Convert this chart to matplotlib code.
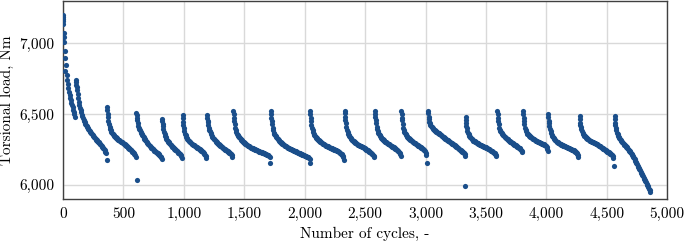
import numpy as np
import matplotlib.pyplot as plt
from matplotlib.ticker import FuncFormatter

plt.rcParams['font.family'] = 'serif'
plt.rcParams['font.serif'] = ['cmr10', 'DejaVu Serif']
plt.rcParams['mathtext.fontset'] = 'cm'
plt.rcParams['axes.formatter.use_mathtext'] = True

# torsional load (Nm) read every 5 cycles, one list per loading block
step = 5
starts = [0, 105, 365, 607, 820, 990, 1192, 1410, 1720, 2045,
          2330, 2580, 2800, 3020, 3332, 3595, 3808, 4015, 4275, 4565]

seg01 = [7200, 7075, 7010, 6950, 6895, 6850, 6775, 6740, 6710, 6685, 6658,
         6635, 6615, 6597, 6580, 6564, 6548, 6532, 6516, 6500, 6483]
seg02 = [6745, 6705, 6670, 6640, 6612, 6588, 6566, 6546, 6528, 6512,
         6497, 6484, 6472, 6461, 6451, 6442, 6434, 6426, 6418, 6410,
         6403, 6396, 6389, 6382, 6376, 6370, 6364, 6358, 6352, 6346,
         6341, 6336, 6331, 6326, 6321, 6316, 6311, 6306, 6301, 6296,
         6291, 6286, 6281, 6276, 6270, 6264, 6258, 6251, 6244, 6236, 6225]
seg03 = [6549, 6500, 6455, 6428, 6410, 6397, 6386, 6377, 6370, 6363,
         6357, 6351, 6346, 6341, 6337, 6333, 6329, 6325, 6321, 6318,
         6315, 6312, 6309, 6306, 6303, 6300, 6297, 6294, 6291, 6288,
         6284, 6280, 6276, 6272, 6268, 6264, 6260, 6256, 6252, 6248,
         6244, 6240, 6236, 6232, 6228, 6222, 6214, 6200]
seg04 = [6510, 6470, 6440, 6418, 6404, 6395, 6386, 6377, 6368, 6360,
         6352, 6344, 6336, 6328, 6322, 6316, 6310, 6304, 6298, 6292,
         6286, 6280, 6276, 6272, 6268, 6264, 6260, 6256, 6251, 6246,
         6242, 6238, 6234, 6230, 6227, 6224, 6220, 6216, 6211, 6206,
         6200, 6194, 6186]
seg05 = [6467, 6430, 6398, 6374, 6358, 6346, 6336, 6327, 6319, 6312,
         6306, 6300, 6294, 6289, 6284, 6279, 6274, 6269, 6265, 6261,
         6257, 6253, 6249, 6245, 6241, 6237, 6233, 6229, 6225, 6221,
         6216, 6210, 6202, 6190]
seg06 = [6491, 6445, 6400, 6378, 6362, 6350, 6340, 6332, 6325, 6319,
         6314, 6309, 6304, 6300, 6296, 6292, 6288, 6285, 6282, 6279,
         6276, 6273, 6270, 6267, 6264, 6261, 6258, 6255, 6252, 6249,
         6246, 6242, 6238, 6234, 6230, 6225, 6219, 6212, 6202, 6188]
seg07 = [6491, 6455, 6425, 6405, 6390, 6378, 6367, 6357, 6349, 6341,
         6334, 6328, 6322, 6316, 6311, 6306, 6301, 6296, 6292, 6288,
         6284, 6280, 6276, 6272, 6268, 6265, 6262, 6259, 6256, 6253,
         6250, 6247, 6244, 6241, 6238, 6235, 6232, 6229, 6226, 6222,
         6217, 6210, 6199]
seg08 = [6526, 6470, 6430, 6405, 6388, 6374, 6363, 6355, 6348, 6342,
         6336, 6331, 6326, 6321, 6316, 6311, 6306, 6302, 6298, 6294,
         6290, 6287, 6284, 6281, 6278, 6275, 6272, 6269, 6266, 6264,
         6262, 6260, 6258, 6256, 6254, 6252, 6250, 6248, 6246, 6244,
         6242, 6240, 6238, 6236, 6234, 6232, 6231, 6230, 6229, 6227,
         6225, 6223, 6221, 6219, 6217, 6215, 6213, 6211, 6209, 6206, 6200]
seg09 = [6526, 6475, 6432, 6405, 6385, 6370, 6358, 6350, 6343, 6337,
         6332, 6327, 6322, 6317, 6312, 6307, 6302, 6298, 6294, 6290,
         6287, 6284, 6281, 6278, 6275, 6272, 6269, 6266, 6263, 6261,
         6259, 6257, 6255, 6253, 6251, 6249, 6247, 6245, 6243, 6241,
         6239, 6237, 6235, 6233, 6231, 6229, 6227, 6225, 6223, 6221,
         6219, 6217, 6215, 6213, 6211, 6209, 6207, 6205, 6203, 6201,
         6199, 6197, 6195, 6190, 6182]
seg10 = [6526, 6470, 6425, 6400, 6385, 6372, 6362, 6354, 6347, 6341,
         6335, 6330, 6325, 6320, 6316, 6312, 6308, 6304, 6301, 6298,
         6295, 6292, 6289, 6286, 6283, 6280, 6278, 6276, 6274, 6272,
         6270, 6268, 6266, 6264, 6262, 6260, 6258, 6256, 6254, 6252,
         6250, 6248, 6246, 6244, 6242, 6240, 6238, 6235, 6232, 6229,
         6226, 6222, 6218, 6214, 6208, 6198, 6178]
seg11 = [6526, 6480, 6440, 6410, 6390, 6374, 6362, 6352, 6344, 6337,
         6331, 6326, 6321, 6316, 6312, 6308, 6304, 6300, 6297, 6294,
         6291, 6288, 6285, 6282, 6280, 6278, 6276, 6274, 6272, 6270,
         6268, 6265, 6262, 6259, 6256, 6253, 6250, 6247, 6244, 6241,
         6238, 6235, 6232, 6229, 6226, 6222, 6218, 6213, 6207, 6198]
seg12 = [6526, 6478, 6440, 6412, 6392, 6378, 6368, 6360, 6352, 6345,
         6339, 6333, 6328, 6323, 6319, 6315, 6311, 6307, 6304, 6301,
         6298, 6295, 6292, 6289, 6286, 6283, 6280, 6277, 6274, 6271,
         6268, 6265, 6262, 6259, 6256, 6253, 6250, 6247, 6243, 6238,
         6232, 6225, 6216, 6206]
seg13 = [6526, 6475, 6433, 6405, 6388, 6376, 6367, 6359, 6352, 6346,
         6340, 6335, 6331, 6327, 6323, 6319, 6315, 6311, 6308, 6305,
         6302, 6299, 6296, 6293, 6290, 6287, 6284, 6281, 6278, 6275,
         6272, 6269, 6266, 6263, 6260, 6256, 6252, 6248, 6244, 6238,
         6228, 6212]
seg14 = [6526, 6480, 6448, 6435, 6425, 6418, 6412, 6406, 6401, 6396, 6391,
         6387, 6384, 6380, 6377, 6374, 6370, 6367, 6364, 6360, 6357,
         6354, 6350, 6347, 6344, 6340, 6337, 6334, 6331, 6328, 6325,
         6321, 6318, 6315, 6311, 6308, 6305, 6302, 6298, 6295, 6292,
         6289, 6286, 6283, 6279, 6276, 6273, 6270, 6267, 6263, 6260,
         6257, 6254, 6250, 6247, 6243, 6240, 6236, 6233, 6229, 6226,
         6220, 6208]
seg15 = [6479, 6435, 6400, 6380, 6367, 6357, 6349, 6342, 6336, 6331,
         6326, 6322, 6318, 6314, 6311, 6308, 6305, 6302, 6299, 6296,
         6293, 6290, 6287, 6285, 6283, 6281, 6279, 6277, 6275, 6273,
         6271, 6269, 6267, 6265, 6263, 6261, 6259, 6257, 6255, 6252,
         6249, 6246, 6243, 6240, 6237, 6234, 6231, 6228, 6224, 6220,
         6214, 6205]
seg16 = [6526, 6470, 6430, 6405, 6390, 6380, 6372, 6366, 6360, 6355,
         6350, 6346, 6342, 6338, 6334, 6330, 6326, 6322, 6318, 6314,
         6310, 6306, 6303, 6300, 6297, 6294, 6291, 6288, 6285, 6282,
         6279, 6276, 6273, 6270, 6267, 6264, 6261, 6258, 6254, 6249,
         6242, 6232]
seg17 = [6526, 6470, 6430, 6405, 6390, 6378, 6370, 6363, 6357, 6352,
         6348, 6344, 6340, 6337, 6334, 6331, 6328, 6325, 6322, 6319,
         6316, 6313, 6310, 6308, 6306, 6304, 6302, 6300, 6298, 6296,
         6294, 6292, 6290, 6288, 6286, 6284, 6281, 6277, 6272, 6265,
         6255, 6238]
seg18 = [6503, 6455, 6418, 6395, 6378, 6365, 6355, 6346, 6338, 6331,
         6325, 6320, 6315, 6311, 6307, 6303, 6300, 6297, 6294, 6291,
         6288, 6286, 6284, 6282, 6280, 6278, 6276, 6274, 6272, 6270,
         6268, 6266, 6264, 6262, 6260, 6258, 6256, 6254, 6252, 6250,
         6248, 6246, 6244, 6241, 6238, 6235, 6232, 6228, 6222, 6213, 6200]
seg19 = [6486, 6440, 6410, 6392, 6380, 6370, 6362, 6355, 6349, 6344,
         6339, 6335, 6331, 6327, 6323, 6320, 6317, 6314, 6311, 6308,
         6306, 6304, 6302, 6300, 6298, 6296, 6294, 6292, 6290, 6287,
         6284, 6281, 6278, 6275, 6272, 6269, 6266, 6263, 6260, 6257,
         6254, 6251, 6248, 6245, 6242, 6239, 6236, 6233, 6230, 6227,
         6224, 6221, 6218, 6215, 6211, 6203, 6188]
seg20 = [6486, 6440, 6405, 6385, 6370, 6358, 6348, 6339, 6331, 6324,
         6318, 6312, 6306, 6300, 6295, 6290, 6285, 6280, 6275, 6270,
         6265, 6260, 6255, 6249, 6243, 6237, 6231, 6225, 6219, 6212,
         6204, 6196, 6188, 6180, 6172, 6164, 6155, 6146, 6137, 6128,
         6120, 6112, 6104, 6095, 6086, 6078, 6069, 6061, 6052, 6043,
         6035, 6026, 6018, 6009, 6000, 5991, 5982, 5973, 5963, 5953]

segments = [seg01, seg02, seg03, seg04, seg05, seg06, seg07, seg08, seg09, seg10,
            seg11, seg12, seg13, seg14, seg15, seg16, seg17, seg18, seg19, seg20]

# extra readings 2 and 7 cycles after each block start (steep part)
head_a = [7140, 6728, 6528, 6492, 6452, 6470, 6476, 6500, 6502, 6500,
          6505, 6504, 6502, 6505, 6460, 6500, 6500, 6482, 6465, 6465]
head_b = [7045, 6690, 6480, 6457, 6415, 6425, 6442, 6452, 6455, 6450,
          6462, 6461, 6456, 6466, 6420, 6452, 6452, 6438, 6427, 6424]

# single stray readings
extra_cycles = [0, 0, 1, 16, 362, 612, 1715, 2042, 3010, 3325, 4557]
extra_loads = [7190, 7170, 7160, 6807, 6175, 6034, 6155, 6152, 6152, 5995, 6135]

cycles = []
loads = []
for s, seg, a, b in zip(starts, segments, head_a, head_b):
    cycles.extend(s + step * np.arange(len(seg)))
    loads.extend(seg)
    cycles.extend([s + 2, s + 7])
    loads.extend([a, b])
cycles.extend(extra_cycles)
loads.extend(extra_loads)

fig = plt.figure(figsize=(6.85, 2.44), dpi=100)
ax = fig.add_axes([0.092, 0.184, 0.882, 0.812])

ax.scatter(cycles, loads, s=14, color='#1a4e8a', linewidths=0, zorder=3)

ax.set_xlim(0, 5000)
ax.set_ylim(5900, 7300)
ax.set_xticks(np.arange(0, 5001, 500))
ax.set_yticks([6000, 6500, 7000])
fmt = FuncFormatter(lambda v, p: f'{v:,.0f}')
ax.xaxis.set_major_formatter(fmt)
ax.yaxis.set_major_formatter(fmt)
ax.tick_params(length=0, labelsize=11, pad=6)
ax.grid(True, color='#d9d9d9', linewidth=1)
ax.set_axisbelow(True)
for sp in ax.spines.values():
    sp.set_color('#404040')
    sp.set_linewidth(1)

ax.set_xlabel('Number of cycles, -', fontsize=11, labelpad=4)
ax.set_ylabel('Torsional load, Nm', fontsize=11, labelpad=4)

fig.savefig('out.png', dpi=100)
